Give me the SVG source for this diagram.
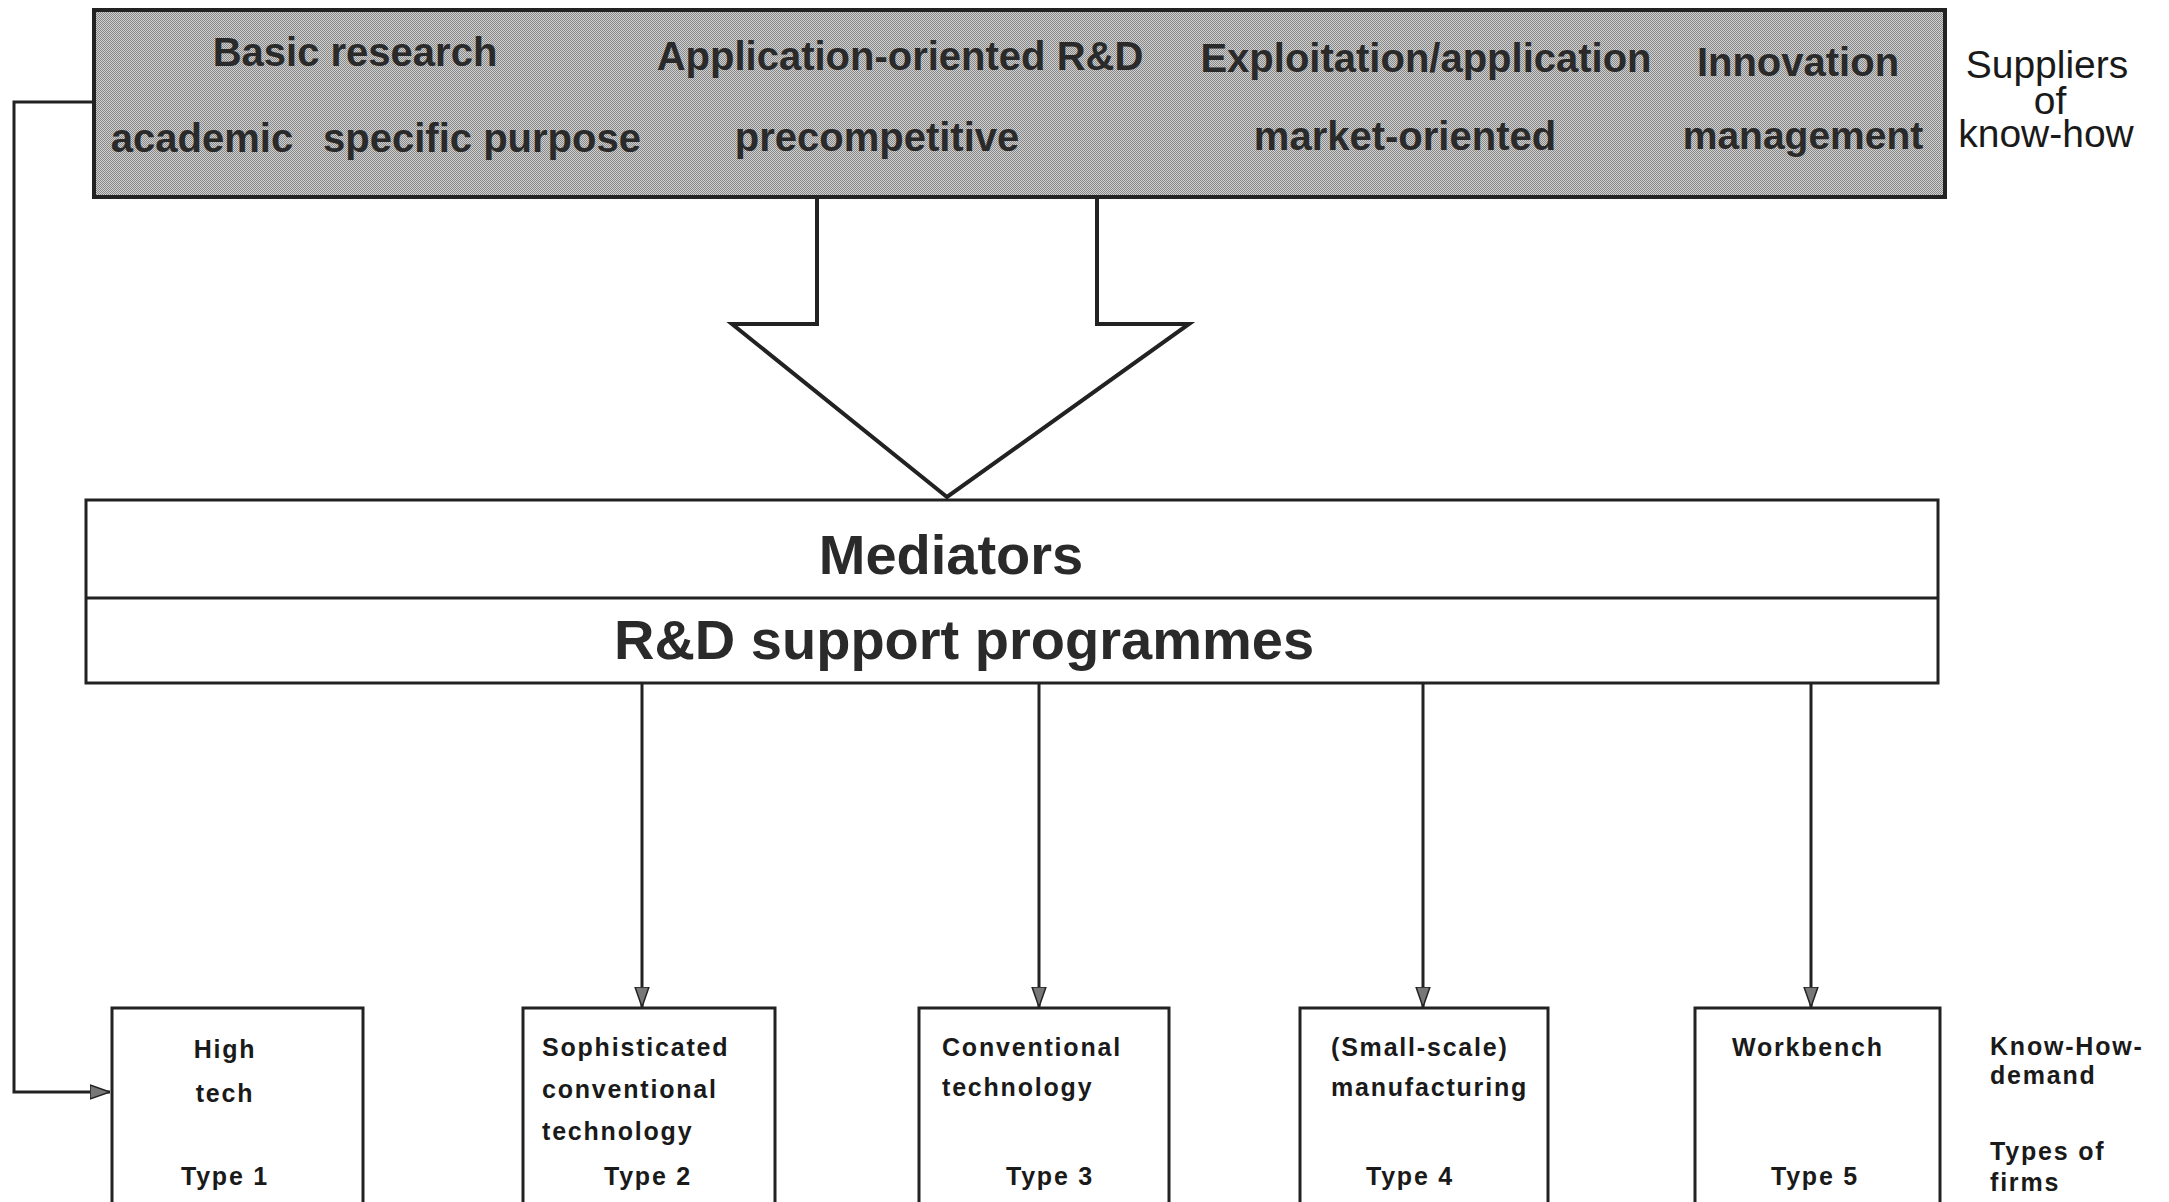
<svg xmlns="http://www.w3.org/2000/svg" width="2169" height="1202" viewBox="0 0 2169 1202">
<style>
.top{font-family:"Liberation Sans",Arial,sans-serif;font-weight:bold;font-size:40px;fill:#2a2a2a;text-anchor:middle}
.side{font-family:"Liberation Sans",Arial,sans-serif;font-size:39px;fill:#1a1a1a;text-anchor:middle}
.mid{font-family:"Liberation Sans",Arial,sans-serif;font-weight:bold;font-size:56px;fill:#2a2a2a;text-anchor:middle}
.fl{font-family:"Liberation Sans",Arial,sans-serif;font-weight:bold;font-size:25px;letter-spacing:1.8px;fill:#1a1a1a}
.c{text-anchor:middle}
.box{fill:#fff;stroke:#222;stroke-width:3}
.con{fill:none;stroke:#222;stroke-width:3}
</style>
<defs>
<pattern id="dith" width="2" height="2" patternUnits="userSpaceOnUse">
<rect width="2" height="2" fill="#d0d0d0"/>
<rect width="1" height="1" fill="#888"/>
<rect x="1" y="1" width="1" height="1" fill="#888"/>
</pattern>
<marker id="ah" viewBox="0 0 20 16" refX="20" refY="8" markerWidth="20" markerHeight="16" markerUnits="userSpaceOnUse" orient="auto">
<path d="M0,1 L20,8 L0,15 z" fill="#777" stroke="#222" stroke-width="1.5"/>
</marker>
</defs>

<g id="connectors">
<polyline class="con" points="94,102 14,102 14,1092 110,1092" marker-end="url(#ah)"/>
<line class="con" x1="642" y1="684" x2="642" y2="1007" marker-end="url(#ah)"/>
<line class="con" x1="1039" y1="684" x2="1039" y2="1007" marker-end="url(#ah)"/>
<line class="con" x1="1423" y1="684" x2="1423" y2="1007" marker-end="url(#ah)"/>
<line class="con" x1="1811" y1="684" x2="1811" y2="1007" marker-end="url(#ah)"/>
<path id="big-arrow" d="M817,196 V324 H732 L947,497 L1189,324 H1097 V196" fill="#fff" stroke="#222" stroke-width="4" stroke-linejoin="miter"/>
</g>

<g id="suppliers">
<rect x="94" y="10" width="1851" height="187" fill="url(#dith)" stroke="#222" stroke-width="4"/>
<text class="top" x="355" y="66">Basic research</text>
<text class="top" x="900" y="70">Application-oriented R&amp;D</text>
<text class="top" x="1426" y="72">Exploitation/application</text>
<text class="top" x="1798" y="76">Innovation</text>
<text class="top" x="202" y="152">academic</text>
<text class="top" x="482" y="152">specific purpose</text>
<text class="top" x="877" y="151">precompetitive</text>
<text class="top" x="1405" y="150">market-oriented</text>
<text class="top" x="1803" y="149" style="font-size:39px">management</text>
</g>

<g id="suppliers-label">
<text class="side" x="2047" y="78">Suppliers</text>
<text class="side" x="2050" y="114">of</text>
<text class="side" x="2046" y="147">know-how</text>
</g>

<g id="mediators">
<rect class="box" x="86" y="500" width="1852" height="183"/>
<line x1="86" y1="598" x2="1938" y2="598" stroke="#222" stroke-width="3"/>
<text class="mid" x="951" y="574">Mediators</text>
<text class="mid" x="964" y="659">R&amp;D support programmes</text>
</g>

<g id="type1">
<rect class="box" x="112" y="1008" width="251" height="200"/>
<text class="fl c" x="225" y="1058">High</text>
<text class="fl c" x="225" y="1102">tech</text>
<text class="fl c" x="225" y="1185">Type 1</text>
</g>

<g id="type2">
<rect class="box" x="523" y="1008" width="252" height="200"/>
<text class="fl" x="542" y="1056">Sophisticated</text>
<text class="fl" x="542" y="1098">conventional</text>
<text class="fl" x="542" y="1140">technology</text>
<text class="fl c" x="648" y="1185">Type 2</text>
</g>

<g id="type3">
<rect class="box" x="919" y="1008" width="250" height="200"/>
<text class="fl" x="942" y="1056">Conventional</text>
<text class="fl" x="942" y="1096">technology</text>
<text class="fl c" x="1050" y="1185">Type 3</text>
</g>

<g id="type4">
<rect class="box" x="1300" y="1008" width="248" height="200"/>
<text class="fl" x="1331" y="1056">(Small-scale)</text>
<text class="fl" x="1331" y="1096">manufacturing</text>
<text class="fl c" x="1410" y="1185">Type 4</text>
</g>

<g id="type5">
<rect class="box" x="1695" y="1008" width="245" height="200"/>
<text class="fl" x="1732" y="1056">Workbench</text>
<text class="fl c" x="1815" y="1185">Type 5</text>
</g>

<g id="demand-label">
<text class="fl" x="1990" y="1055">Know-How-</text>
<text class="fl" x="1990" y="1084">demand</text>
<text class="fl" x="1990" y="1160">Types of</text>
<text class="fl" x="1990" y="1191">firms</text>
</g>
</svg>
